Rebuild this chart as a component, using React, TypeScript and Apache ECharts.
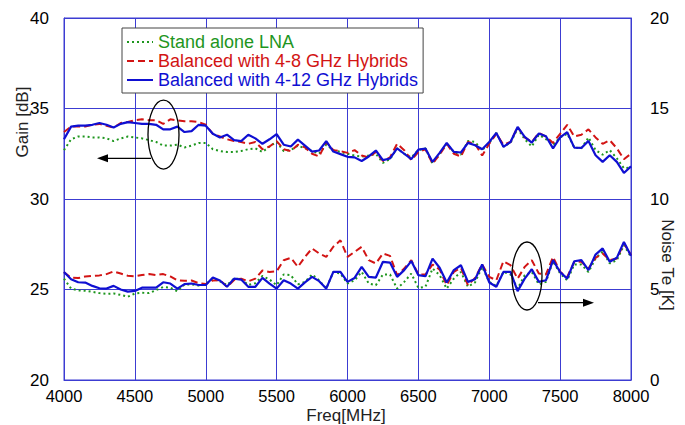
import React, { useEffect, useRef } from "react";
import * as echarts from "echarts";

const freqs = [
  4000, 4050, 4100, 4150, 4200, 4250, 4300, 4350, 4400, 4450,
  4500, 4550, 4600, 4650, 4700, 4750, 4800, 4850, 4900, 4950,
  5000, 5050, 5100, 5150, 5200, 5250, 5300, 5350, 5400, 5450,
  5500, 5550, 5600, 5650, 5700, 5750, 5800, 5850, 5900, 5950,
  6000, 6050, 6100, 6150, 6200, 6250, 6300, 6350, 6400, 6450,
  6500, 6550, 6600, 6650, 6700, 6750, 6800, 6850, 6900, 6950,
  7000, 7050, 7100, 7150, 7200, 7250, 7300, 7350, 7400, 7450,
  7500, 7550, 7600, 7650, 7700, 7750, 7800, 7850, 7900, 7950,
  8000,
];

const gainStandAlone = [
  32.7, 33.3, 33.45, 33.45, 33.4, 33.4, 33.35, 33.2, 33.35, 33.45,
  33.4, 33.35, 33.25, 33.15, 32.95, 32.95, 33.0, 32.85, 32.95, 33.1,
  33.1, 32.75, 32.65, 32.6, 32.6, 32.65, 32.75, 32.8, 32.6, 32.9,
  33.15, 32.65, 32.7, 32.95, 32.8, 32.65, 32.5, 33.0, 32.7, 32.6,
  32.5, 32.4, 32.35, 32.4, 32.5, 32.0, 32.2, 32.8, 32.5, 32.3,
  32.7, 32.8, 31.95, 32.5, 33.05, 32.6, 32.45, 33.2, 33.15, 32.7,
  33.1, 33.65, 32.9, 33.1, 33.9, 33.3, 32.9, 33.55, 33.3, 33.0,
  33.4, 33.6, 32.85, 32.8, 33.4, 32.7, 32.45, 32.7, 32.25, 31.7,
  31.75,
];

const gainHybrid48 = [
  33.7, 34.0, 34.0, 34.0, 34.1, 34.15, 34.05, 33.95, 34.2, 34.25,
  34.35, 34.4, 34.35, 34.35, 34.15, 34.4, 34.35, 34.3, 34.3, 34.25,
  34.1, 33.6, 33.45, 33.3, 33.2, 33.15, 33.05, 33.15, 32.75, 32.9,
  33.2, 32.75, 32.65, 33.0, 32.85, 32.5, 32.35, 33.15, 32.7, 32.65,
  32.55, 32.7, 32.4, 32.3, 32.6, 32.1, 32.3, 33.05, 32.7, 32.15,
  32.6, 32.75, 31.95, 32.45, 33.05, 32.5, 32.35, 33.15, 33.05, 32.4,
  33.05, 33.6, 33.0, 33.15, 33.98, 33.4, 33.15, 33.65, 33.45, 33.1,
  33.6, 34.1, 33.45, 33.55, 33.85, 33.4, 33.05, 33.25, 32.8, 32.2,
  32.5,
];

const gainHybrid412 = [
  33.3, 34.0, 34.05, 34.05, 34.1, 34.2, 34.1, 33.95, 34.15, 34.25,
  34.2, 34.15, 34.15, 34.1, 33.85, 33.85, 34.0, 33.7, 33.75, 34.1,
  34.05, 33.6, 33.4, 33.55, 33.25, 33.2, 33.55, 33.35, 33.05, 33.3,
  33.58, 33.0, 32.9, 33.28, 32.95, 32.62, 32.68, 33.2, 32.62, 32.48,
  32.33, 32.3, 32.1, 32.35, 32.68, 32.15, 32.24, 32.8, 32.5, 32.2,
  32.73, 32.79, 32.05, 32.55, 33.1, 32.6, 32.57, 33.1, 32.97, 32.75,
  33.15, 33.65, 32.88, 33.15, 33.98, 33.43, 33.12, 33.62, 33.47, 32.8,
  33.4, 33.69, 32.84, 32.82, 33.21, 32.42, 32.05, 32.42, 32.05, 31.44,
  31.8,
];

const noiseStandAlone = [
  5.6, 5.05, 4.95, 4.93, 4.87, 4.8, 4.76, 4.78, 4.7, 4.6,
  4.78, 4.82, 4.8, 4.97, 5.14, 5.1, 4.9, 5.28, 5.28, 5.22,
  5.3, 5.6, 5.45, 5.25, 5.6, 5.58, 5.25, 5.35, 5.75, 5.55,
  5.24, 5.83, 5.79, 5.28, 5.42, 5.83, 5.51, 5.05, 5.97, 5.88,
  5.33, 5.51, 5.97, 5.33, 5.24, 5.83, 5.83, 5.05, 5.42, 5.88,
  5.09, 5.15, 6.16, 5.79, 5.05, 5.6, 5.97, 5.15, 5.39, 6.25,
  5.42, 5.2, 5.97, 5.83, 5.05, 5.79, 5.97, 5.28, 5.42, 6.56,
  5.88, 5.51, 6.38, 6.38, 5.97, 6.71, 7.1, 6.44, 6.62, 7.45,
  6.8,
];

const noiseHybrid48 = [
  5.95, 5.65, 5.63, 5.72, 5.75, 5.78, 5.85, 6.0, 5.88, 5.76,
  5.73, 5.8, 5.85, 5.8, 5.85, 5.72, 5.5, 5.48, 5.5, 5.35,
  5.3, 5.5, 5.52, 5.15, 5.52, 5.6, 5.45, 5.6, 6.05, 5.97,
  6.0, 6.62, 6.75, 6.25, 6.8, 7.27, 6.99, 6.8, 7.36, 7.72,
  6.8, 7.08, 7.36, 6.62, 6.44, 6.99, 6.86, 5.79, 6.16, 6.62,
  5.83, 5.83, 6.38, 6.1, 5.24, 5.97, 6.2, 5.24, 5.64, 6.38,
  5.7, 5.51, 6.56, 6.34, 5.6, 6.25, 6.62, 5.88, 5.83, 6.8,
  5.97, 5.7, 6.53, 6.53, 6.16, 6.75, 6.99, 6.62, 6.71, 7.55,
  6.9,
];

const noiseHybrid412 = [
  5.97, 5.57, 5.4, 5.38, 5.2, 5.07, 5.05, 5.2, 5.0, 4.88,
  4.92, 5.1, 5.1, 5.1, 5.4, 5.33, 5.05, 5.3, 5.33, 5.25,
  5.25, 5.66, 5.5, 5.15, 5.6, 5.55, 5.15, 5.15, 5.64, 5.33,
  5.05, 5.51, 5.33, 5.05, 5.39, 5.7, 5.46, 5.05, 5.97, 5.97,
  5.42, 5.64, 6.25, 5.7, 5.66, 6.53, 6.49, 5.7, 6.07, 6.57,
  5.79, 5.73, 6.71, 6.2, 5.39, 6.07, 6.34, 5.42, 5.57, 6.38,
  5.39, 5.15, 5.97, 5.97, 4.91, 5.6, 6.12, 5.42, 5.51, 6.62,
  5.97, 5.6, 6.56, 6.62, 6.07, 6.93, 7.27, 6.53, 6.75, 7.63,
  6.86,
];

const seriesNames = [
  "Stand alone LNA",
  "Balanced with 4-8 GHz Hybrids",
  "Balanced with 4-12 GHz Hybrids",
];

const xAxisName = "Freq[MHz]";
const leftAxisName = "Gain [dB]";
const rightAxisName = "Noise Te [K]";

const GREEN = "#1e961e";
const RED = "#d21414";
const BLUE = "#0f0fd2";
const GRID = "#3c3cd2";
const FONT = "Liberation Sans, Arial, sans-serif";

export default function App() {
  const ref = useRef<HTMLDivElement>(null);

  useEffect(() => {
    if (!ref.current) return;
    document.body.style.margin = "0";
    const chart = echarts.init(ref.current, undefined, { renderer: "svg" });

    const pair = (vals: number[]) => freqs.map((f, i) => [f, vals[i]]);

    const styles = [
      { color: GREEN, type: [2, 3], width: 2 },
      { color: RED, type: [7, 4], width: 2 },
      { color: BLUE, type: "solid", width: 2.2 },
    ];
    const gains = [gainStandAlone, gainHybrid48, gainHybrid412];
    const noises = [noiseStandAlone, noiseHybrid48, noiseHybrid412];

    const series: any[] = [];
    for (let k = 0; k < 3; k++) {
      series.push({
        name: seriesNames[k],
        type: "line",
        xAxisIndex: 0,
        yAxisIndex: 0,
        data: pair(gains[k]),
        showSymbol: false,
        symbol: "none",
        color: styles[k].color,
        lineStyle: { ...styles[k] },
        z: 2 + k,
      });
      series.push({
        name: seriesNames[k],
        type: "line",
        xAxisIndex: 0,
        yAxisIndex: 1,
        data: pair(noises[k]),
        showSymbol: false,
        symbol: "none",
        color: styles[k].color,
        lineStyle: { ...styles[k] },
        z: 2 + k,
      });
    }

    const arrowStyle = { stroke: "#000", lineWidth: 1.3 };

    chart.setOption({
      animation: false,
      backgroundColor: "#fff",
      textStyle: { fontFamily: FONT },
      grid: {
        left: 64,
        right: 54,
        top: 18,
        bottom: 45,
        show: true,
        borderColor: GRID,
        borderWidth: 1,
        backgroundColor: "transparent",
        containLabel: false,
        outerBoundsMode: "none",
      },
      legend: {
        orient: "vertical",
        left: 122,
        top: 28,
        padding: [5, 5, 4, 4],
        itemWidth: 26,
        itemHeight: 14,
        itemGap: 1,
        backgroundColor: "#fff",
        borderColor: "#444",
        borderWidth: 1,
        borderRadius: 0,
        selectedMode: false,
        itemStyle: { opacity: 0 },
        textStyle: { fontSize: 18, fontFamily: FONT },
        data: [
          { name: seriesNames[0], textStyle: { color: GREEN } },
          { name: seriesNames[1], textStyle: { color: RED } },
          { name: seriesNames[2], textStyle: { color: BLUE } },
        ],
      },
      xAxis: {
        type: "value",
        min: 4000,
        max: 8000,
        interval: 500,
        axisLine: { show: true, lineStyle: { color: GRID } },
        axisTick: { show: false },
        axisLabel: {
          color: "#000",
          fontSize: 16.5,
          margin: 7,
          showMinLabel: true,
          showMaxLabel: true,
          fontFamily: FONT,
          formatter: (v: number) => String(v),
        },
        splitLine: { show: true, lineStyle: { color: GRID, width: 1 } },
      },
      yAxis: [
        {
          type: "value",
          min: 20,
          max: 40,
          interval: 5,
          position: "left",
          axisLine: { show: true, lineStyle: { color: GRID } },
          axisTick: { show: false },
          axisLabel: { color: "#000", fontSize: 17, margin: 15, fontFamily: FONT },
          splitLine: { show: true, lineStyle: { color: GRID, width: 1 } },
        },
        {
          type: "value",
          min: 0,
          max: 20,
          interval: 5,
          position: "right",
          axisLine: { show: true, lineStyle: { color: GRID } },
          axisTick: { show: false },
          axisLabel: { color: "#000", fontSize: 17, margin: 19, fontFamily: FONT },
          splitLine: { show: false },
        },
      ],
      series,
      graphic: [
        {
          type: "text",
          x: 22,
          y: 122,
          rotation: Math.PI / 2,
          style: {
            text: leftAxisName,
            fontSize: 17,
            fontFamily: FONT,
            fill: "#222",
            align: "center",
            verticalAlign: "middle",
          },
          z: 10,
        },
        {
          type: "text",
          x: 667,
          y: 265,
          rotation: -Math.PI / 2,
          style: {
            text: rightAxisName,
            fontSize: 17,
            fontFamily: FONT,
            fill: "#222",
            align: "center",
            verticalAlign: "middle",
          },
          z: 10,
        },
        {
          type: "text",
          x: 346,
          y: 415,
          style: {
            text: xAxisName,
            fontSize: 17,
            fontFamily: FONT,
            fill: "#222",
            align: "center",
            verticalAlign: "middle",
          },
          z: 10,
        },
        {
          type: "ellipse",
          shape: { cx: 163.5, cy: 134.7, rx: 15.5, ry: 34.5 },
          style: { fill: "none", stroke: "#000", lineWidth: 1.3 },
          z: 10,
        },
        {
          type: "line",
          shape: { x1: 151, y1: 158.3, x2: 105, y2: 158.3 },
          style: arrowStyle,
          z: 10,
        },
        {
          type: "polygon",
          shape: { points: [[97, 158.3], [108, 154.3], [108, 162.3]] },
          style: { fill: "#000" },
          z: 10,
        },
        {
          type: "ellipse",
          shape: { cx: 527, cy: 276, rx: 15, ry: 34 },
          style: { fill: "none", stroke: "#000", lineWidth: 1.3 },
          z: 10,
        },
        {
          type: "line",
          shape: { x1: 538, y1: 302.7, x2: 585, y2: 302.7 },
          style: arrowStyle,
          z: 10,
        },
        {
          type: "polygon",
          shape: { points: [[594, 302.7], [583, 298.7], [583, 306.7]] },
          style: { fill: "#000" },
          z: 10,
        },
      ],
    });

    return () => {
      chart.dispose();
    };
  }, []);

  return (
    <div
      ref={ref}
      style={{ position: "fixed", left: 0, top: 0, width: 685, height: 425, background: "#fff" }}
    />
  );
}
